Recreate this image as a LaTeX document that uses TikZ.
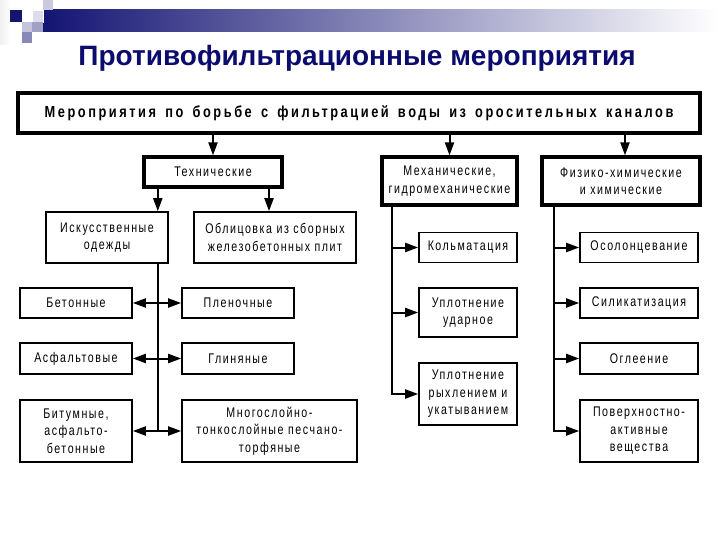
\documentclass[tikz,border=0pt]{standalone}
\usepackage{fontspec}
\usepackage{xcolor}
\usetikzlibrary{arrows.meta, positioning}
\setmainfont{Liberation Sans}
\newfontfamily\boxfont[FakeStretch=0.76,LetterSpace=11]{Liberation Sans}
\newfontfamily\headfont[FakeStretch=0.8,LetterSpace=16,WordSpace=1.5]{Liberation Sans}
\definecolor{titleblue}{RGB}{12,12,110}
\definecolor{barblue}{RGB}{20,20,115}
\tikzset{
	>={Triangle[length=13pt,width=9pt]},
	box/.style={draw, line width=1.6pt, align=center, inner sep=0pt,
		font=\boxfont\fontsize{14}{17.5}\selectfont},
	thickbox/.style={box, line width=3.2pt},
	arr/.style={->, line width=2pt},
	darr/.style={<->, line width=2pt}
}

\begin{document}
\begin{tikzpicture}[x=1pt, y=-1pt]
	\useasboundingbox (0,0) rectangle (720,540);
	
	% header bar
	\shade[left color=gray!12, right color=white] (0,0) rectangle (10,45);
	\shade[left color=barblue, right color=white] (43,10) rectangle (718,32);
	\fill[barblue] (10,10) rectangle (22,22);
	\fill[barblue!22] (43,0) rectangle (53,10);
	\fill[barblue!15, draw=white] (32,10) rectangle (43,22);
	\fill[barblue!25] (22,22) rectangle (32,32);
	\fill[barblue!40] (32,22) rectangle (43,32);
	\fill[barblue!50] (22,32) rectangle (32,43);
	
	\node[font=\fontsize{28}{30}\selectfont\bfseries, text=titleblue] (title) at (357,58) {Противофильтрационные мероприятия};
	
	\node[thickbox, minimum width=682pt, minimum height=40pt, font=\headfont\bfseries\fontsize{16}{18}\selectfont] (main) at (359,113) {Мероприятия по борьбе с фильтрацией воды из оросительных каналов};
	
	\node[thickbox, minimum width=138pt, minimum height=30pt] (tech) at (213,172) {Технические};
	\node[thickbox, minimum width=135pt, minimum height=48pt] (mech) at (449.5,181) {Механические,\\гидромеханические};
	\node[thickbox, minimum width=158pt, minimum height=48pt] (phys) at (621,181) {Физико-химические\\и химические};
	
	\node[box, minimum width=122pt, minimum height=51pt] (odezh) at (107,237.5) {Искусственные\\одежды};
	\node[box, minimum width=162pt, minimum height=51pt] (oblic) at (275,237.5) {Облицовка из сборных\\железобетонных плит};
	
	\node[box, minimum width=112pt, minimum height=30pt] (beton) at (76,303) {Бетонные};
	\node[box, minimum width=112pt, minimum height=30pt] (plen) at (238,303) {Пленочные};
	\node[box, minimum width=112pt, minimum height=31pt] (asf) at (76,358.5) {Асфальтовые};
	\node[box, minimum width=112pt, minimum height=31pt] (glin) at (238,358.5) {Глиняные};
	\node[box, minimum width=112pt, minimum height=62pt] (bitum) at (76,431) {Битумные,\\асфальто-\\бетонные};
	\node[box, minimum width=175pt, minimum height=62pt] (mnogo) at (269.5,431) {Многослойно-\\тонкослойные песчано-\\торфяные};
	
	\node[box, minimum width=98pt, minimum height=30pt] (kolm) at (468,247.5) {Кольматация};
	\node[box, minimum width=98pt, minimum height=49pt] (udar) at (468,312.5) {Уплотнение\\ударное};
	\node[box, minimum width=98pt, minimum height=62pt] (ryhl) at (468,394) {Уплотнение\\рыхлением и\\укатыванием};
	
	\node[box, minimum width=118pt, minimum height=30pt] (osol) at (639,247.5) {Осолонцевание};
	\node[box, minimum width=118pt, minimum height=30pt] (silik) at (639,303) {Силикатизация};
	\node[box, minimum width=118pt, minimum height=31pt] (ogl) at (639,358.5) {Оглеение};
	\node[box, minimum width=118pt, minimum height=62pt] (pav) at (639,431) {Поверхностно-\\активные\\вещества};
	
	% trunks
	\coordinate (ttrunk) at ([xshift=-11pt]odezh.south east);
	\coordinate (mtrunk) at ([xshift=12pt]mech.south west);
	\coordinate (ptrunk) at ([xshift=14pt]phys.south west);
	
	\draw[arr] (main.south -| tech.north) -- (tech.north);
	\draw[arr] (main.south -| mech.north) -- (mech.north);
	\draw[arr] ([xshift=4pt]phys.north |- main.south) -- ([xshift=4pt]phys.north);
	\draw[arr] (tech.south -| ttrunk) -- (odezh.north -| ttrunk);
	\draw[arr] ([xshift=-6pt]oblic.north |- tech.south) -- ([xshift=-6pt]oblic.north);
	
	\draw[line width=1.6pt] (ttrunk) -- (ttrunk |- bitum.east);
	\draw
	(beton) edge[darr] (plen)
	(asf) edge[darr] (glin)
	(bitum) edge[darr] (mnogo)
	;
	
	\draw[line width=2pt] (mtrunk) -- (mtrunk |- udar.west);
	\draw[arr] (mtrunk |- udar.west) |- (ryhl.west);
	\draw
	(mtrunk |- kolm.west) edge[arr] (kolm.west)
	(mtrunk |- udar.west) edge[arr] (udar.west)
	;
	
	\draw[line width=2pt] (ptrunk) -- (ptrunk |- ogl.west);
	\draw[arr] (ptrunk |- ogl.west) |- (pav.west);
	\draw
	(ptrunk |- osol.west) edge[arr] (osol.west)
	(ptrunk |- silik.west) edge[arr] (silik.west)
	(ptrunk |- ogl.west) edge[arr] (ogl.west)
	;
\end{tikzpicture}
\end{document}
